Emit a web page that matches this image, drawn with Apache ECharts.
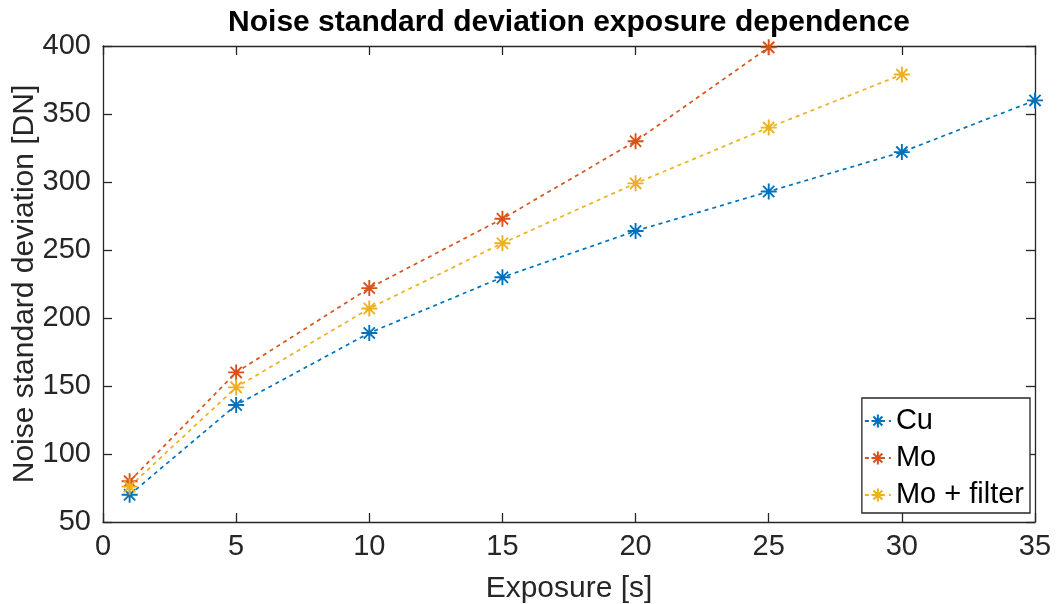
<!DOCTYPE html>
<html>
<head>
<meta charset="utf-8">
<script src="https://cdn.jsdelivr.net/npm/echarts@6/dist/echarts.min.js"></script>
<style>
  html, body { margin: 0; padding: 0; background: #fff; }
  #chart { width: 1057px; height: 604px; }
</style>
</head>
<body>
<div id="chart"></div>
<script>
// Exposure times [s] and measured noise standard deviation [DN]
const exposureCu = [1, 5, 10, 15, 20, 25, 30, 35];
const noiseCu = [70, 136, 189, 230, 264, 293, 322, 360];

const exposureMo = [1, 5, 10, 15, 20, 25];
const noiseMo = [80, 160, 222, 273, 330, 399];

const exposureMoFilter = [1, 5, 10, 15, 20, 25, 30];
const noiseMoFilter = [76, 149, 207, 255, 299, 340, 379];

const seriesNames = ['Cu', 'Mo', 'Mo + filter'];
const seriesColors = ['#0072BD', '#D95319', '#EDB120'];

const xTicks = { min: 0, max: 35, step: 5 };
const yTicks = { min: 50, max: 400, step: 50 };

// eight-armed asterisk marker
const asterisk = 'path://M0 5L10 5M5 0L5 10M1.5 1.5L8.5 8.5M1.5 8.5L8.5 1.5';

const fontFamily = 'Liberation Sans, Arial, Helvetica, sans-serif';
const axisColor = '#262626';
const labelSize = 29;
const nameSize = 30;

function pairs(xs, ys) { return xs.map((x, i) => [x, ys[i]]); }

function makeSeries(name, color, data) {
  return {
    name: name,
    type: 'line',
    data: data,
    symbol: asterisk,
    symbolSize: 16,
    showAllSymbol: true,
    lineStyle: { color: color, width: 1.7, type: [4, 4] },
    itemStyle: { color: 'rgba(0,0,0,0)', borderColor: color, borderWidth: 1.9 },
    emphasis: { disabled: true },
    z: 3
  };
}

// ticks point into the plot box, as on a boxed axes frame
function innerTicks() {
  return { show: true, inside: true, length: 9, lineStyle: { color: axisColor, width: 1.3 } };
}
function frameLine() {
  return { show: true, onZero: false, lineStyle: { color: axisColor, width: 1.3 } };
}

const option = {
  animation: false,
  backgroundColor: '#ffffff',
  title: {
    text: 'Noise standard deviation exposure dependence',
    left: 564,
    top: 3,
    textAlign: 'center',
    textStyle: { fontFamily: fontFamily, fontSize: 30, fontWeight: 'bold', color: '#000' }
  },
  grid: { left: 103, right: 22, top: 46, bottom: 82, containLabel: false, outerBoundsMode: 'none' },
  legend: {
    data: seriesNames,
    orient: 'vertical',
    right: 27,
    bottom: 91,
    itemGap: 7,
    itemWidth: 26,
    itemHeight: 16,
    padding: [8, 6, 3, 2],
    backgroundColor: '#fff',
    borderColor: axisColor,
    borderWidth: 1.3,
    borderRadius: 0,
    textStyle: { fontFamily: fontFamily, fontSize: labelSize, lineHeight: 30, color: '#000' }
  },
  xAxis: [
    {
      type: 'value', position: 'bottom',
      min: xTicks.min, max: xTicks.max, interval: xTicks.step,
      name: 'Exposure [s]',
      nameLocation: 'middle',
      nameGap: 52,
      nameMoveOverlap: false,
      nameTextStyle: { fontFamily: fontFamily, fontSize: nameSize, color: axisColor },
      axisLine: frameLine(),
      axisTick: innerTicks(),
      axisLabel: { fontFamily: fontFamily, fontSize: labelSize, color: axisColor, margin: 10 },
      splitLine: { show: false }
    },
    {
      type: 'value', position: 'top',
      min: xTicks.min, max: xTicks.max, interval: xTicks.step,
      axisLine: frameLine(),
      axisTick: innerTicks(),
      axisLabel: { show: false },
      splitLine: { show: false }
    }
  ],
  yAxis: [
    {
      type: 'value', position: 'left',
      min: yTicks.min, max: yTicks.max, interval: yTicks.step,
      name: 'Noise standard deviation [DN]',
      nameLocation: 'middle',
      nameGap: 63,
      nameMoveOverlap: false,
      nameTextStyle: { fontFamily: fontFamily, fontSize: nameSize, color: axisColor },
      axisLine: frameLine(),
      axisTick: innerTicks(),
      axisLabel: { fontFamily: fontFamily, fontSize: labelSize, color: axisColor, margin: 12 },
      splitLine: { show: false }
    },
    {
      type: 'value', position: 'right',
      min: yTicks.min, max: yTicks.max, interval: yTicks.step,
      axisLine: frameLine(),
      axisTick: innerTicks(),
      axisLabel: { show: false },
      splitLine: { show: false }
    }
  ],
  series: [
    makeSeries(seriesNames[0], seriesColors[0], pairs(exposureCu, noiseCu)),
    makeSeries(seriesNames[1], seriesColors[1], pairs(exposureMo, noiseMo)),
    makeSeries(seriesNames[2], seriesColors[2], pairs(exposureMoFilter, noiseMoFilter))
  ]
};

const chart = echarts.init(document.getElementById('chart'), null, { renderer: 'canvas' });
chart.setOption(option);
</script>
</body>
</html>
